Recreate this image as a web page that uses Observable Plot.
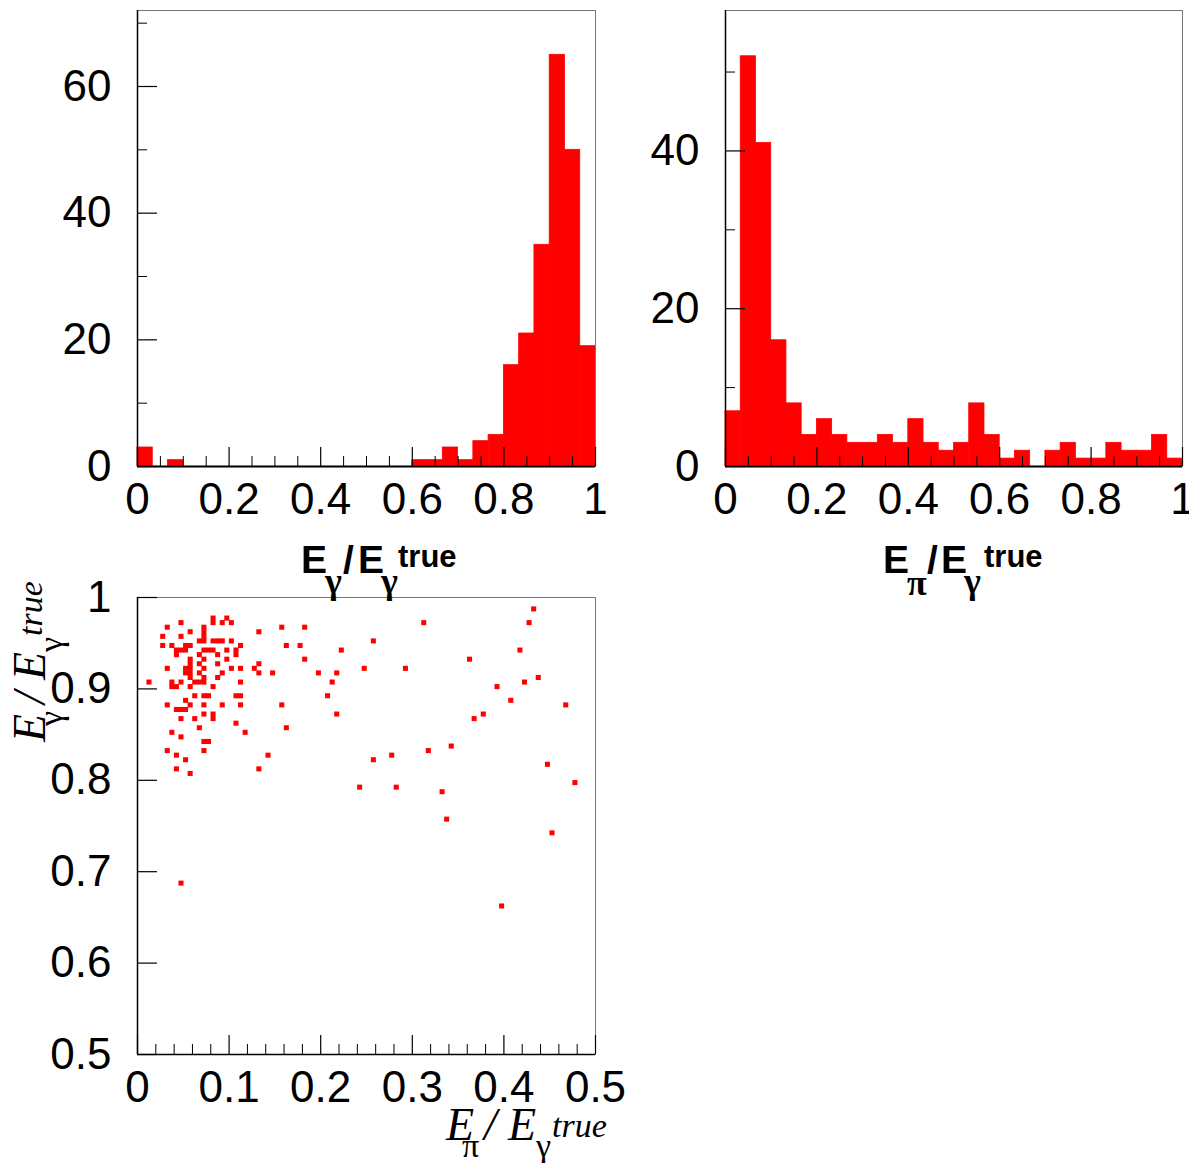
<!DOCTYPE html>
<html><head><meta charset="utf-8">
<script src="https://cdn.jsdelivr.net/npm/d3@7"></script>
<script src="https://cdn.jsdelivr.net/npm/@observablehq/plot@0.6"></script>
<style>
body{margin:0;background:#fff;}
#wrap{position:relative;width:1189px;height:1163px;overflow:hidden;background:#fff;}
#wrap > svg{position:absolute;overflow:visible;}
</style></head><body><div id="wrap"></div>
<script>
// ---------------- data ----------------
const nBins = 30;
// E_gamma / E_gamma^true histogram (30 bins on [0,1])
const gammaCounts = [3,0,1,0,0,0,0,0,0,0,0,0,0,0,0,0,0,0,1,1,3,1,4,5,16,21,35,65,50,19];
// E_pi / E_gamma^true histogram (30 bins on [0,1])
const piCounts = [7,52,41,16,8,4,6,4,3,3,4,3,6,3,2,3,8,4,1,2,0,2,3,1,1,3,2,2,4,1];

const histXTicks = [0, 0.2, 0.4, 0.6, 0.8, 1];
const histXMinor = [0.05,0.1,0.15,0.25,0.3,0.35,0.45,0.5,0.55,0.65,0.7,0.75,0.85,0.9,0.95];
const gammaYTicks = [0, 20, 40, 60];
const gammaYMinor = [10, 30, 50, 70];
const piYTicks = [0, 20, 40];
const piYMinor = [10, 30, 50];

// scatter: x = E_pi/E_gamma^true, y = E_gamma/E_gamma^true
const scatterX = [
0.0825,0.0975,
0.0475,0.0825,0.0925,0.1025,
0.0325,0.0725,0.1575,0.1825,
0.0575,0.0725,0.1325,
0.0275,0.0475,0.0725,
0.0675,0.0725,0.0825,0.0875,0.0925,0.1025,0.2575,
0.0275,0.0375,0.0525,0.0575,0.1125,0.1625,0.1775,
0.0425,0.0475,0.0525,0.0725,0.0775,0.0825,0.0975,0.1075,0.2225,
0.0425,0.0675,0.0875,0.1075,
0.0575,0.0725,0.0975,0.1825,
0.0575,0.0675,0.0875,0.1325,
0.0325,0.0525,0.0575,0.0725,0.1025,0.1125,0.1275,0.2475,
0.0525,0.0575,0.0675,0.0925,0.1325,0.1475,0.1975,0.2175,
0.0575,0.0725,0.0875,
0.0125,0.0375,0.0475,0.0625,0.0675,0.0725,0.1125,0.2125,
0.0375,0.0425,0.0575,0.0825,
0.0625,0.0725,0.0775,0.1075,0.1125,0.2075,
0.0525,
0.0325,0.0575,0.0725,0.0925,0.1125,0.1575,
0.0425,0.0475,0.0525,
0.0725,0.0825,0.2175,
0.0475,0.0625,0.0825,
0.1075,
0.0675,0.1625,
0.0375,0.1175,
0.0475,
0.0725,0.0775,
0.0325,0.0725,
0.0425,0.1425,
0.0525,0.2575,
0.0425,0.1325,
0.0575,
0.2425,
0.4325,0.3125,0.4275,0.4175,0.3625,0.2925,0.3925,0.4225,0.4375,0.4075,0.4675,0.3775,0.3675,
0.3425,0.3175,0.2775,0.4475,0.4775,0.2825,0.3325,0.3375,0.4525,
0.0475,0.3975
];
const scatterY = [
0.9775,0.9775,
0.9725,0.9725,0.9725,0.9725,
0.9675,0.9675,0.9675,0.9675,
0.9625,0.9625,0.9625,
0.9575,0.9575,0.9575,
0.9525,0.9525,0.9525,0.9525,0.9525,0.9525,0.9525,
0.9475,0.9475,0.9475,0.9475,0.9475,0.9475,0.9475,
0.9425,0.9425,0.9425,0.9425,0.9425,0.9425,0.9425,0.9425,0.9425,
0.9375,0.9375,0.9375,0.9375,
0.9325,0.9325,0.9325,0.9325,
0.9275,0.9275,0.9275,0.9275,
0.9225,0.9225,0.9225,0.9225,0.9225,0.9225,0.9225,0.9225,
0.9175,0.9175,0.9175,0.9175,0.9175,0.9175,0.9175,0.9175,
0.9125,0.9125,0.9125,
0.9075,0.9075,0.9075,0.9075,0.9075,0.9075,0.9075,0.9075,
0.9025,0.9025,0.9025,0.9025,
0.8925,0.8925,0.8925,0.8925,0.8925,0.8925,
0.8875,
0.8825,0.8825,0.8825,0.8825,0.8825,0.8825,
0.8775,0.8775,0.8775,
0.8725,0.8725,0.8725,
0.8675,0.8675,0.8675,
0.8625,
0.8575,0.8575,
0.8525,0.8525,
0.8475,
0.8425,0.8425,
0.8325,0.8325,
0.8275,0.8275,
0.8225,0.8225,
0.8125,0.8125,
0.8075,
0.7925,
0.9875,0.9725,0.9725,0.9425,0.9325,0.9225,0.9025,0.9075,0.9125,0.8875,0.8825,0.8725,0.8675,
0.8375,0.8325,0.8275,0.8175,0.7975,0.7925,0.7875,0.7575,0.7425,
0.6875,0.6625
];
const scatXTicks = [0, 0.1, 0.2, 0.3, 0.4, 0.5];
const scatXMinor = [0.02,0.04,0.06,0.08,0.12,0.14,0.16,0.18,0.22,0.24,0.26,0.28,0.32,0.34,0.36,0.38,0.42,0.44,0.46,0.48];
const scatYTicks = [0.5, 0.6, 0.7, 0.8, 0.9, 1];

// ---------------- drawing ----------------
const RED = "#ff0000";
const FONT = "'Liberation Sans', Arial, Helvetica, sans-serif";
const SERIF = "'Liberation Serif', 'Times New Roman', serif";
const LABEL = 44;
const fmt = d => String(d);
const wrap = document.getElementById("wrap");

function place(svg, left, top) {
  svg.style.left = left + "px";
  svg.style.top = top + "px";
  wrap.appendChild(svg);
}

function axisMarks({xMajor, xMinor, yMajor, yMinor, plotW, plotH}) {
  const m = [
    Plot.frame({stroke: "#777", strokeWidth: 1}),
    Plot.ruleX(xMajor, {x: d => d, insetTop: plotH - 19, stroke: "#000", strokeWidth: 1.2}),
    Plot.ruleY(yMajor, {y: d => d, insetRight: plotW - 20, stroke: "#000", strokeWidth: 1.2}),
    Plot.text(xMajor, {x: d => d, text: fmt, frameAnchor: "bottom", lineAnchor: "top", dy: 16, fontSize: LABEL, fill: "#000"}),
    Plot.text(yMajor, {y: d => d, text: fmt, frameAnchor: "left", textAnchor: "end", dx: -26, fontSize: LABEL, fill: "#000"})
  ];
  if (xMinor) m.push(Plot.ruleX(xMinor, {x: d => d, insetTop: plotH - 10, stroke: "#000", strokeWidth: 1}));
  if (yMinor) m.push(Plot.ruleY(yMinor, {y: d => d, insetRight: plotW - 10, stroke: "#000", strokeWidth: 1}));
  return m;
}

function histogram(counts, yMax, yMajor, yMinor, opts) {
  const rows = counts.map((c, i) => ({x1: i / nBins, x2: (i + 1) / nBins, c}));
  const plotW = opts.width - opts.marginLeft - opts.marginRight;
  const plotH = opts.height - opts.marginTop - opts.marginBottom;
  return Plot.plot({
    ...opts,
    x: {domain: [0, 1], axis: null},
    y: {domain: [0, yMax], axis: null},
    style: {fontFamily: FONT, background: "transparent", color: "#000", overflow: "visible"},
    marks: [
      Plot.rect(rows.filter(r => r.c > 0), {x1: "x1", x2: "x2", y1: 0, y2: "c", fill: RED, stroke: RED, strokeWidth: 0.8}),
      Plot.ruleY([0], {stroke: RED, strokeWidth: 2}),
      ...axisMarks({xMajor: histXTicks, xMinor: histXMinor, yMajor, yMinor, plotW, plotH}),
      Plot.ruleX([0], {stroke: "#000", strokeWidth: 1.5}),
      Plot.ruleY([0], {stroke: "#000", strokeWidth: 1.5})
    ]
  });
}

// top-left
place(histogram(gammaCounts, 72, gammaYTicks, gammaYMinor,
  {width: 600, height: 530, marginLeft: 137, marginRight: 5, marginTop: 10, marginBottom: 64}), 0, 0);
// top-right
place(histogram(piCounts, 57.8, piYTicks, piYMinor,
  {width: 589, height: 530, marginLeft: 125, marginRight: 7, marginTop: 10, marginBottom: 64}), 600, 0);

// scatter
const pts = scatterX.map((x, i) => ({x, y: scatterY[i]}));
const sOpts = {width: 600, height: 569, marginLeft: 137, marginRight: 5, marginTop: 57, marginBottom: 55};
const scatter = Plot.plot({
  ...sOpts,
  x: {domain: [0, 0.5], axis: null},
  y: {domain: [0.5, 1], axis: null},
  style: {fontFamily: FONT, background: "transparent", color: "#000", overflow: "visible"},
  marks: [
    Plot.dot(pts, {x: "x", y: "y", symbol: "square", r: 2.85, fill: RED, stroke: "none"}),
    ...axisMarks({xMajor: scatXTicks, xMinor: scatXMinor, yMajor: scatYTicks, yMinor: null,
                  plotW: 458, plotH: 457}),
    Plot.ruleX([0], {stroke: "#000", strokeWidth: 1.5}),
    Plot.ruleY([0.5], {stroke: "#000", strokeWidth: 1.5})
  ]
});
place(scatter, 0, 540);

// ---------------- axis titles (overlay) ----------------
const ov = d3.create("svg").attr("width", 1189).attr("height", 1163)
  .style("left", "0px").style("top", "0px").style("pointer-events", "none");

function boldTitle(pieces) {
  const g = ov.append("g").attr("fill", "#000");
  for (const p of pieces) {
    g.append("text").attr("x", p.x).attr("y", p.y).attr("font-size", p.s)
      .attr("font-family", p.greek ? SERIF : FONT)
      .attr("font-weight", "bold")
      .text(p.t);
  }
}
// E_gamma / E_gamma^true  (top-left)
boldTitle([
  {t: "E", x: 301, y: 573, s: 39},
  {t: "\u03b3", x: 325, y: 593, s: 36, greek: true},
  {t: "/", x: 343, y: 573, s: 39},
  {t: "E", x: 358, y: 573, s: 39},
  {t: "\u03b3", x: 381, y: 593, s: 36, greek: true},
  {t: "true", x: 398, y: 567, s: 31}
]);
// E_pi / E_gamma^true  (top-right)
boldTitle([
  {t: "E", x: 883, y: 573, s: 39},
  {t: "\u03c0", x: 907, y: 595, s: 36, greek: true},
  {t: "/", x: 927, y: 573, s: 39},
  {t: "E", x: 941, y: 573, s: 39},
  {t: "\u03b3", x: 964, y: 593, s: 36, greek: true},
  {t: "true", x: 984, y: 567, s: 31}
]);

function italicTitle(transform, pieces) {
  const t = ov.append("text").attr("transform", transform)
    .attr("font-family", SERIF).attr("fill", "#000");
  for (const p of pieces) {
    t.append("tspan").attr("x", p.x).attr("y", p.y).attr("font-size", p.s)
      .attr("font-style", p.greek ? "normal" : "italic").text(p.t);
  }
}
const italicPieces = (sub1) => [
  {t: "E", x: 0, y: 0, s: 46},
  {t: sub1, x: 16, y: 17, s: 34, greek: true},
  {t: "/", x: 38, y: 0, s: 46},
  {t: "E", x: 62, y: 0, s: 46},
  {t: "\u03b3", x: 90, y: 17, s: 34, greek: true},
  {t: "true", x: 106, y: -3, s: 34}
];
// x title of scatter
italicTitle("translate(446,1140)", italicPieces("\u03c0"));
// y title of scatter (rotated)
italicTitle("translate(45,742) rotate(-90)", italicPieces("\u03b3"));

wrap.appendChild(ov.node());
</script>
</body></html>
